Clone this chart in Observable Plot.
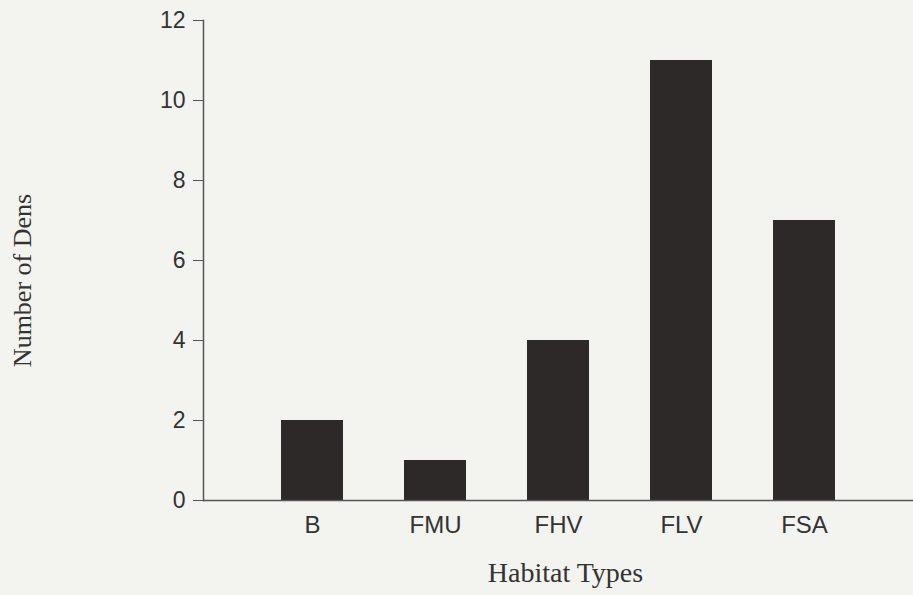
<!DOCTYPE html>
<html>
<head>
<meta charset="utf-8">
<script src="https://cdn.jsdelivr.net/npm/d3@7"></script>
<script src="https://cdn.jsdelivr.net/npm/@observablehq/plot@0.6"></script>
<style>
  html, body { margin: 0; padding: 0; background: #f3f3ef; }
  #chart { width: 913px; height: 595px; }
</style>
</head>
<body>
<div id="chart"></div>
<script>
const habitats = ["B", "FMU", "FHV", "FLV", "FSA"];
const dens = [2, 1, 4, 11, 7];
const yTicks = [0, 2, 4, 6, 8, 10, 12];
const xTitle = "Habitat Types";
const yTitle = "Number of Dens";

const data = habitats.map((h, i) => ({habitat: h, count: dens[i]}));

const sans = "'Liberation Sans', Arial, Helvetica, sans-serif";
const serif = "'Liberation Serif', 'Times New Roman', Times, serif";

const chart = Plot.plot({
  width: 913,
  height: 595,
  marginLeft: 203,
  marginRight: 0,
  marginTop: 20,
  marginBottom: 95,
  style: {background: "transparent", color: "#333"},
  x: {domain: habitats, paddingInner: 0.5, paddingOuter: 0.613, axis: null},
  y: {domain: [0, 12], axis: null},
  marks: [
    Plot.barY(data, {x: "habitat", y: "count", fill: "#2d2929"}),
    Plot.frame({anchor: "left", stroke: "#555", strokeWidth: 1.5}),
    Plot.ruleY([0], {stroke: "#555", strokeWidth: 1.5}),
    Plot.axisY({
      ticks: yTicks, tickSize: 10, tickPadding: 8, tickFormat: d => String(d),
      label: null, fontSize: 23, fontFamily: sans, stroke: "#555", fill: "#333"
    }),
    Plot.axisX({
      tickSize: 0, tickPadding: 15, label: null,
      fontSize: 24, fontFamily: sans, fill: "#333"
    }),
    Plot.text([xTitle], {
      frameAnchor: "bottom", dx: 7, dy: 81, text: d => d,
      fontSize: 28, fontFamily: serif, fill: "#333"
    }),
    Plot.text([yTitle], {
      frameAnchor: "left", dx: -181, dy: 20, rotate: -90, textAnchor: "middle", text: d => d,
      fontSize: 26, fontFamily: serif, fill: "#333"
    })
  ]
});
document.getElementById("chart").appendChild(chart);
</script>
</body>
</html>
